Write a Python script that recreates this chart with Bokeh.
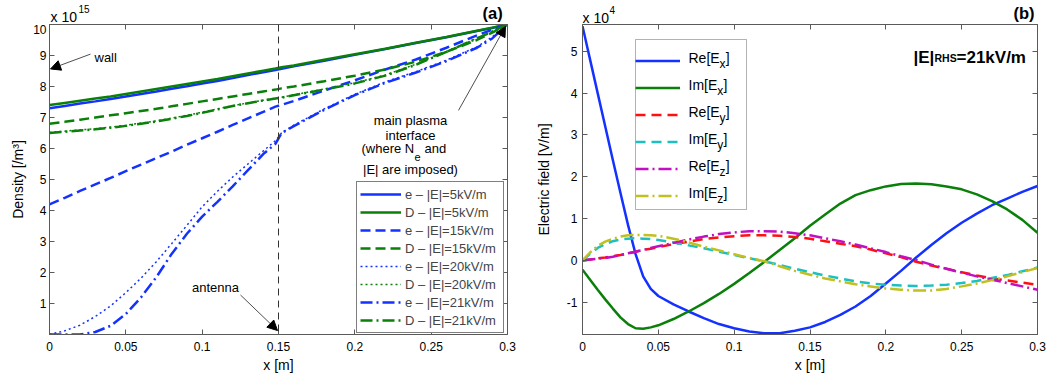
from bokeh.plotting import figure
from bokeh.layouts import row, column
from bokeh.models import (Range1d, LinearAxis, FixedTicker, Label, Arrow,
                          NormalHead, Span, Legend, LegendItem, BoxAnnotation)
from bokeh.embed import file_html
from bokeh.resources import INLINE

FONT = "Liberation Sans"
AX = "#5a5a5a"
BLUE = "#1432ff"
GREEN = "#0a800a"
RED = "#ff1010"
CYAN = "#1cc0c0"
MAGENTA = "#c010c0"
YELLOW = "#c0c020"

# ---------------- panel (a): density, units of 1e15 m^-3 ----------------
x_a = [0.0, 0.01, 0.02, 0.03, 0.04, 0.05, 0.06, 0.07, 0.08, 0.09, 0.10, 0.11,
       0.12, 0.13, 0.14, 0.148, 0.152, 0.16, 0.18, 0.20, 0.22, 0.24, 0.26,
       0.28, 0.29, 0.30]
e_5 = [7.30, 7.37, 7.45, 7.52, 7.60, 7.68, 7.76, 7.84, 7.93, 8.01, 8.10, 8.18,
       8.27, 8.37, 8.46, 8.53, 8.57, 8.65, 8.83, 9.02, 9.21, 9.40, 9.59, 9.79, 9.89, 10.0]
D_5 = [7.40, 7.47, 7.54, 7.61, 7.68, 7.76, 7.84, 7.92, 8.00, 8.08, 8.16, 8.24,
       8.33, 8.42, 8.51, 8.58, 8.62, 8.68, 8.86, 9.04, 9.22, 9.41, 9.60, 9.80, 9.90, 10.0]
e_15 = [4.20, 4.41, 4.63, 4.84, 5.05, 5.27, 5.48, 5.69, 5.90, 6.12, 6.33, 6.54,
        6.76, 6.97, 7.18, 7.35, 7.41, 7.53, 7.87, 8.20, 8.55, 8.87, 9.25, 9.65, 9.83, 10.0]
D_15 = [6.80, 6.86, 6.93, 7.00, 7.07, 7.14, 7.21, 7.28, 7.36, 7.44, 7.52, 7.60,
        7.68, 7.76, 7.84, 7.90, 7.94, 8.00, 8.17, 8.35, 8.55, 8.80, 9.12, 9.50, 9.74, 10.0]
e_20 = [0.00, 0.12, 0.30, 0.58, 0.92, 1.35, 1.82, 2.35, 2.93, 3.52, 4.12, 4.62,
        5.08, 5.50, 5.92, 6.25, 6.50, 6.75, 7.28, 7.75, 8.15, 8.48, 8.85, 9.28, 9.60, 10.0]
D_20 = [6.52, 6.56, 6.60, 6.64, 6.69, 6.75, 6.82, 6.89, 6.98, 7.07, 7.17, 7.28,
        7.38, 7.47, 7.56, 7.62, 7.65, 7.73, 7.92, 8.12, 8.37, 8.72, 9.13, 9.56, 9.78, 10.0]
e_21 = [0.00, 0.00, 0.00, 0.08, 0.28, 0.66, 1.20, 1.85, 2.60, 3.25, 3.80, 4.28,
        4.78, 5.30, 5.82, 6.15, 6.50, 6.72, 7.25, 7.72, 8.12, 8.45, 8.82, 9.25, 9.55, 10.0]
D_21 = [6.50, 6.54, 6.58, 6.62, 6.67, 6.73, 6.80, 6.87, 6.96, 7.05, 7.15, 7.26,
        7.37, 7.46, 7.55, 7.61, 7.64, 7.72, 7.90, 8.10, 8.35, 8.70, 9.12, 9.55, 9.77, 10.0]
legend_a = ["e \u2013 |E|=5kV/m", "D \u2013 |E|=5kV/m",
            "e \u2013 |E|=15kV/m", "D \u2013 |E|=15kV/m",
            "e \u2013 |E|=20kV/m", "D \u2013 |E|=20kV/m",
            "e \u2013 |E|=21kV/m", "D \u2013 |E|=21kV/m"]
xticks_a = [0, 0.05, 0.1, 0.15, 0.2, 0.25, 0.3]
xtick_labels_a = ["0", "0.05", "0.1", "0.15", "0.2", "0.25", "0.3"]
yticks_a = [1, 2, 3, 4, 5, 6, 7, 8, 9, 10]
ytick_labels_a = ["1", "2", "3", "4", "5", "6", "7", "8", "9", "10"]
antenna_x = 0.15

# ---------------- panel (b): electric field, units of 1e4 V/m ----------------
x_b = [0.0, 0.005, 0.01, 0.015, 0.02, 0.025, 0.03, 0.035, 0.04, 0.045, 0.05,
       0.06, 0.07, 0.08, 0.09, 0.10, 0.11, 0.12, 0.13, 0.14, 0.15, 0.16, 0.17,
       0.18, 0.19, 0.20, 0.21, 0.22, 0.23, 0.24, 0.25, 0.26, 0.27, 0.28, 0.29, 0.30]
re_Ex = [5.60, 4.80, 4.00, 3.20, 2.40, 1.62, 0.85, 0.15, -0.38, -0.68, -0.85,
         -1.05, -1.22, -1.38, -1.52, -1.62, -1.70, -1.74, -1.74, -1.68, -1.60, -1.47, -1.30,
         -1.10, -0.85, -0.55, -0.25, 0.07, 0.37, 0.65, 0.90, 1.12, 1.32, 1.48, 1.64, 1.78]
im_Ex = [-0.22, -0.46, -0.70, -0.93, -1.15, -1.36, -1.52, -1.62, -1.63, -1.60, -1.55,
         -1.40, -1.22, -1.02, -0.80, -0.56, -0.30, -0.03, 0.25, 0.53, 0.83, 1.10, 1.36,
         1.56, 1.68, 1.77, 1.83, 1.84, 1.82, 1.77, 1.70, 1.58, 1.42, 1.22, 0.97, 0.66]
re_Ey = [0.0, 0.02, 0.05, 0.07, 0.10, 0.13, 0.17, 0.21, 0.25, 0.28, 0.32,
         0.39, 0.45, 0.51, 0.55, 0.58, 0.60, 0.60, 0.59, 0.56, 0.52, 0.46, 0.40,
         0.34, 0.26, 0.17, 0.08, -0.03, -0.12, -0.20, -0.28, -0.36, -0.43, -0.48, -0.53, -0.58]
im_Ey = [0.0, 0.16, 0.30, 0.39, 0.46, 0.50, 0.52, 0.53, 0.52, 0.51, 0.49,
         0.43, 0.36, 0.29, 0.21, 0.13, 0.05, -0.02, -0.11, -0.20, -0.28, -0.36, -0.43,
         -0.50, -0.55, -0.58, -0.60, -0.61, -0.60, -0.58, -0.54, -0.49, -0.42, -0.35, -0.26, -0.17]
re_Ez = [0.0, 0.02, 0.04, 0.06, 0.09, 0.13, 0.17, 0.21, 0.25, 0.30, 0.34,
         0.42, 0.50, 0.57, 0.63, 0.67, 0.70, 0.70, 0.69, 0.65, 0.60, 0.53, 0.46,
         0.38, 0.29, 0.20, 0.10, 0.01, -0.10, -0.20, -0.29, -0.38, -0.46, -0.54, -0.62, -0.70]
im_Ez = [0.0, 0.19, 0.35, 0.45, 0.52, 0.57, 0.60, 0.61, 0.61, 0.60, 0.59,
         0.52, 0.43, 0.33, 0.24, 0.15, 0.06, -0.02, -0.14, -0.25, -0.34, -0.43, -0.50,
         -0.57, -0.62, -0.67, -0.70, -0.72, -0.72, -0.68, -0.62, -0.55, -0.47, -0.38, -0.28, -0.18]
legend_b = [("Re[E", "x"), ("Im[E", "x"), ("Re[E", "y"),
            ("Im[E", "y"), ("Re[E", "z"), ("Im[E", "z")]
xticks_b = [0, 0.05, 0.1, 0.15, 0.2, 0.25, 0.3]
xtick_labels_b = ["0", "0.05", "0.1", "0.15", "0.2", "0.25", "0.3"]
yticks_b = [-1, 0, 1, 2, 3, 4, 5]
ytick_labels_b = ["-1", "0", "1", "2", "3", "4", "5"]

XA = (0.0, 0.3); YA = (0.0, 10.0)
XB = (0.0, 0.3); YB = (-1.77, 5.64)

# ---------------- layout constants (page pixels) ----------------
H = 380
HEAD = 24                 # strip above each plot holding the texts over the box
BT, BB = 24, 46           # frame top / bottom margin of the whole panel
A_W, A_BL, A_BR = 525, 49, 18
B_W, B_BL, B_BR = 537, 57, 25
A_ACT = (A_BL, BT, A_W - A_BR, H - BB)
B_ACT = (A_W + B_BL, BT, A_W + B_W - B_BR, H - BB)
A_REF = (49, 23, 507, 337)       # frame as seen in the reference picture
B_REF = (582, 25, 1037, 331)


def conv(frame, xr, yr):
    fl, ft, fr, fb = frame
    def f(px, py):
        return (xr[0] + (px - fl) / (fr - fl) * (xr[1] - xr[0]),
                yr[1] - (py - ft) / (fb - ft) * (yr[1] - yr[0]))
    return f


ca = conv(A_REF, XA, YA)
ca_act = conv(A_ACT, XA, YA)
cb = conv(B_REF, XB, YB)
cb_act = conv(B_ACT, XB, YB)


def make_fig(w, bl, br, xr, yr):
    p = figure(width=w, height=H - HEAD, x_range=Range1d(*xr), y_range=Range1d(*yr),
               output_backend="svg", toolbar_location=None,
               min_border_left=bl, min_border_right=br, min_border_top=BT - HEAD,
               min_border_bottom=BB)
    p.xgrid.visible = False
    p.ygrid.visible = False
    p.outline_line_color = AX
    p.outline_line_width = 1
    p.background_fill_color = "white"
    p.border_fill_color = "white"
    return p


def make_head(w, bl, br, xrange):
    h = figure(width=w, height=HEAD, x_range=xrange, y_range=Range1d(0, HEAD),
               output_backend="svg", toolbar_location=None,
               x_axis_type=None, y_axis_type=None,
               min_border_left=bl, min_border_right=br, min_border_top=0,
               min_border_bottom=0)
    h.outline_line_color = None
    h.xgrid.visible = False
    h.ygrid.visible = False
    h.background_fill_color = "white"
    h.border_fill_color = "white"
    return h


def style_axes(p, xt, xl, yt, yl, xlab, ylab, y_standoff, y_lab_standoff):
    xa = p.xaxis[0]
    ya = p.yaxis[0]
    xa.ticker = FixedTicker(ticks=xt)
    xa.major_label_overrides = dict(zip(xt, xl))
    ya.ticker = FixedTicker(ticks=yt)
    ya.major_label_overrides = dict(zip(yt, yl))
    xa.axis_label = xlab
    ya.axis_label = ylab
    for a in (xa, ya):
        a.major_tick_in = 5
        a.major_tick_out = 0
        a.minor_tick_line_color = None
        a.axis_line_color = AX
        a.major_tick_line_color = AX
        a.major_label_text_font = FONT
        a.major_label_text_font_size = "12px"
        a.major_label_text_color = "black"
        a.axis_label_text_font = FONT
        a.axis_label_text_font_size = "14px"
        a.axis_label_text_font_style = "normal"
        a.axis_label_text_color = "black"
    xa.major_label_standoff = 7
    xa.axis_label_standoff = 3
    ya.major_label_standoff = y_standoff
    ya.axis_label_standoff = y_lab_standoff
    # tick marks on the top and right edges (box style), without labels
    for loc, tk in (("above", xt), ("right", yt)):
        ax = LinearAxis(ticker=FixedTicker(ticks=tk), major_tick_in=5, major_tick_out=0,
                        minor_tick_line_color=None, major_label_text_font_size="0px",
                        major_label_text_color=None, major_label_standoff=0,
                        axis_line_color=AX, major_tick_line_color=AX)
        p.add_layout(ax, loc)


def lab(p, c, px, py, text, size, align="left", baseline="middle", bold=False):
    x, y = c(px, py)
    p.add_layout(Label(x=x, y=y, text=text, text_font=FONT,
                       text_font_size=f"{size}px", text_align=align,
                       text_baseline=baseline, text_color="black",
                       text_font_style="bold" if bold else "normal",
                       level="overlay"))


def arrow(p, c, p0, p1):
    x0, y0 = c(*p0)
    x1, y1 = c(*p1)
    p.add_layout(Arrow(end=NormalHead(size=10, fill_color="black", line_color="black",
                                      line_width=1),
                       x_start=x0, y_start=y0, x_end=x1, y_end=y1,
                       line_color="black", line_width=0.7, level="overlay"))


# ================= panel (a) =================
pa = make_fig(A_W, A_BL, A_BR, XA, YA)
style_axes(pa, xticks_a, xtick_labels_a, yticks_a, ytick_labels_a,
           "x [m]", "Density [/m\u00b3]", 3, 4)

pa.add_layout(Span(location=antenna_x, dimension="height", line_color="#333333",
                   line_width=1, line_dash="7 5"))

series_a = [(e_5, BLUE, "solid", 2.5), (D_5, GREEN, "solid", 2.5),
            (e_15, BLUE, "10 5", 2.5), (D_15, GREEN, "10 5", 2.5),
            (e_20, BLUE, "2 3", 1.5), (D_20, GREEN, "2 3", 1.5),
            (e_21, BLUE, "12 4 2 4", 2.5), (D_21, GREEN, "12 4 2 4", 2.5)]
items_a = []
for (ys, col, dash, lw), name in zip(series_a, legend_a):
    r = pa.line(x_a, ys, line_color=col, line_width=lw, line_dash=dash)
    items_a.append(LegendItem(label=name, renderers=[r]))

leg_a = Legend(items=items_a, location=(307, 1), padding=3, spacing=0,
               label_height=18, glyph_height=18, glyph_width=41, label_standoff=4,
               label_width=95, label_text_font=FONT, label_text_font_size="13px",
               border_line_color="black", border_line_width=1,
               background_fill_color="white", background_fill_alpha=1.0, margin=0)
pa.add_layout(leg_a)

lab(pa, ca, 94, 56, "wall", 13)
arrow(pa, ca, (90, 53), (50, 68))
lab(pa, ca, 215, 289, "antenna", 13, align="center")
arrow(pa, ca, (240, 297), (277, 333))
lab(pa, ca, 410, 120, "main plasma", 13, align="center")
lab(pa, ca, 410, 135.5, "interface", 13, align="center")
lab(pa, ca, 361, 149, "(where N", 13)
lab(pa, ca, 414, 157, "e", 11)
lab(pa, ca, 424, 149, "and", 13)
lab(pa, ca, 410, 170, "|E| are imposed)", 13, align="center")
arrow(pa, ca, (458, 110), (505, 25))

# header strip of panel (a): x-scale in data units, y in pixels from its bottom
ha = make_head(A_W, A_BL, A_BR, pa.x_range)
hx_a = lambda px, py: (ca_act(px, 0)[0], HEAD - py)
lab(ha, hx_a, 50, 16.5, "x 10", 14, baseline="alphabetic")
lab(ha, hx_a, 78, 8.5, "15", 10, baseline="alphabetic")
lab(ha, hx_a, 482, 12, "(a)", 16.5, baseline="middle", bold=True)

# ================= panel (b) =================
pb = make_fig(B_W, B_BL, B_BR, XB, YB)
style_axes(pb, xticks_b, xtick_labels_b, yticks_b, ytick_labels_b,
           "x [m]", "Electric field [V/m]", 5, 12)

LEG_B_LEFT, LEG_B_TOP, LEG_B_W, LEG_B_H = 635, 39, 111, 170
bl_, bt_ = cb_act(LEG_B_LEFT, LEG_B_TOP)
br_, bb_ = cb_act(LEG_B_LEFT + LEG_B_W, LEG_B_TOP + LEG_B_H)
pb.add_layout(BoxAnnotation(left=bl_, right=br_, top=bt_, bottom=bb_,
                            fill_color="white", fill_alpha=1.0, line_color="black",
                            line_width=1, level="underlay"))

series_b = [(re_Ex, BLUE, "solid"), (im_Ex, GREEN, "solid"),
            (re_Ey, RED, "10 6"), (im_Ey, CYAN, "10 6"),
            (re_Ez, MAGENTA, "13 4 2 4"), (im_Ez, YELLOW, "13 4 2 4")]
items_b = []
for ys, col, dash in series_b:
    r = pb.line(x_b, ys, line_color=col, line_width=2.5, line_dash=dash)
    items_b.append(LegendItem(label=" ", renderers=[r]))

leg_b = Legend(items=items_b,
               location=(LEG_B_LEFT - B_ACT[0], B_ACT[3] - LEG_B_TOP - LEG_B_H),
               padding=4, spacing=0, label_height=27, glyph_height=27, glyph_width=45,
               label_standoff=4, label_width=54, label_text_font=FONT,
               label_text_font_size="14px", border_line_color=None,
               background_fill_alpha=0.0, margin=0)
pb.add_layout(leg_b)

main_w = {"Re[E": 31.1, "Im[E": 28.8}
tx = LEG_B_LEFT + 4 + 45 + 4
for i, (main, sub) in enumerate(legend_b):
    cy = LEG_B_TOP + 4 + 13.5 + 27 * i
    lab(pb, cb_act, tx, cy + 1, main, 14, baseline="alphabetic")
    lab(pb, cb_act, tx + main_w[main], cy + 6.5, sub, 12, baseline="alphabetic")
    lab(pb, cb_act, tx + main_w[main] + 6.2, cy + 1, "]", 14, baseline="alphabetic")

lab(pb, cb, 913, 58, "|E|", 17, baseline="alphabetic", bold=True)
lab(pb, cb, 934, 58.5, "RHS", 10.5, baseline="alphabetic", bold=True)
lab(pb, cb, 956, 58, "=21kV/m", 17, baseline="alphabetic", bold=True)

hb = make_head(B_W, B_BL, B_BR, pb.x_range)
hx_b = lambda px, py: (cb_act(px, 0)[0], HEAD - py)
lab(hb, hx_b, 582, 17, "x 10", 14, baseline="alphabetic")
lab(hb, hx_b, 609, 9, "4", 10, baseline="alphabetic")
lab(hb, hx_b, 1013, 12, "(b)", 16.5, baseline="middle", bold=True)

layout = row(column(ha, pa), column(hb, pb))
open("out.html", "w").write(file_html(layout, INLINE))
